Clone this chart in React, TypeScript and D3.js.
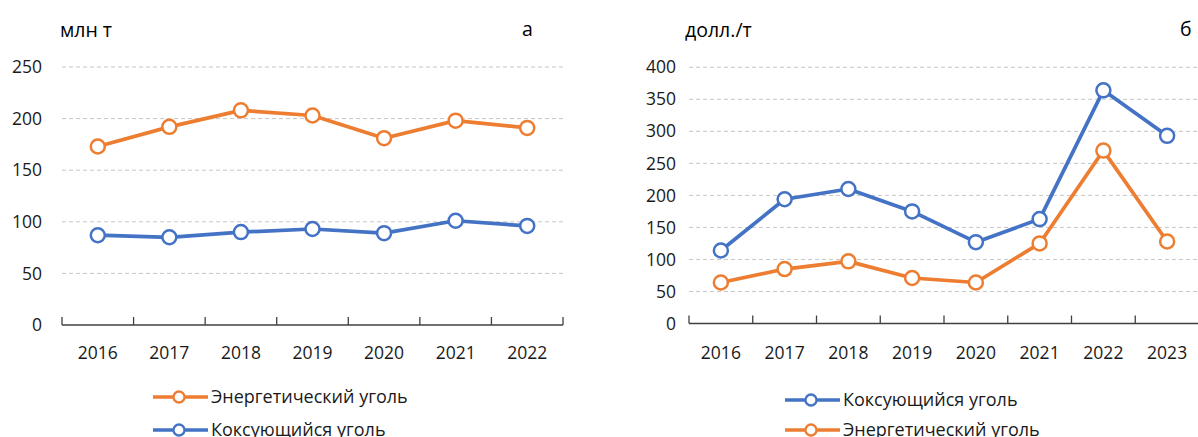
import React, { useEffect, useRef } from "react";
import * as d3 from "d3";

// left panel (а): production, mln t
const yearsA = ["2016", "2017", "2018", "2019", "2020", "2021", "2022"];
const thermalA = [173, 192, 208, 203, 181, 198, 191];
const cokingA = [87, 85, 90, 93, 89, 101, 96];
const ticksA = [0, 50, 100, 150, 200, 250];

// right panel (б): prices, USD/t
const yearsB = ["2016", "2017", "2018", "2019", "2020", "2021", "2022", "2023"];
const cokingB = [114, 194, 210, 175, 127, 163, 364, 293];
const thermalB = [64, 85, 97, 71, 64, 125, 270, 128];
const ticksB = [0, 50, 100, 150, 200, 250, 300, 350, 400];

const ORANGE = "#ED7D31";
const BLUE = "#4472C4";
const FONT = "'Open Sans', sans-serif";

const W = 1198, H = 437;

const drawPanel = (svg, cfg) => {
  const { years, series, ticks, max, xRange, yRange, labelX, unit, unitX, letter, letterX, legend } = cfg;
  const x = d3.scaleBand().domain(years).range(xRange);
  const y = d3.scaleLinear().domain([0, max]).range(yRange);
  const g = svg.append("g");

  // dashed grid
  g.selectAll(".grid")
    .data(ticks.filter(t => t > 0))
    .enter()
    .append("line")
    .attr("x1", xRange[0])
    .attr("x2", xRange[1])
    .attr("y1", d => y(d))
    .attr("y2", d => y(d))
    .attr("stroke", "#c6c6c6")
    .attr("stroke-width", 1)
    .attr("stroke-dasharray", "4,3");

  // y labels
  g.selectAll(".ylab")
    .data(ticks)
    .enter()
    .append("text")
    .attr("x", labelX)
    .attr("y", d => y(d))
    .attr("dy", "0.35em")
    .attr("text-anchor", "end")
    .attr("font-family", FONT)
    .attr("font-size", 17.5)
    .attr("fill", "#1a1a1a")
    .text(d => d);

  // x axis with inward ticks between categories
  const y0 = y(0);
  g.append("line")
    .attr("x1", xRange[0]).attr("x2", xRange[1])
    .attr("y1", y0).attr("y2", y0)
    .attr("stroke", "#404040").attr("stroke-width", 1.3);
  const bounds = years.map(d => x(d)).concat([x(years[years.length - 1]) + x.bandwidth()]);
  g.selectAll(".tick")
    .data(bounds)
    .enter()
    .append("line")
    .attr("x1", d => d).attr("x2", d => d)
    .attr("y1", y0 - 8).attr("y2", y0)
    .attr("stroke", "#404040").attr("stroke-width", 1.3);

  g.selectAll(".xlab")
    .data(years)
    .enter()
    .append("text")
    .attr("x", d => x(d) + x.bandwidth() / 2)
    .attr("y", 353)
    .attr("dy", "0.35em")
    .attr("text-anchor", "middle")
    .attr("font-family", FONT)
    .attr("font-size", 17.5)
    .attr("fill", "#1a1a1a")
    .text(d => d);

  // lines + markers
  const line = d3.line()
    .x((d, i) => x(years[i]) + x.bandwidth() / 2)
    .y(d => y(d));
  series.forEach(s => {
    g.append("path")
      .attr("d", line(s.values))
      .attr("fill", "none")
      .attr("stroke", s.color)
      .attr("stroke-width", 3.7)
      .attr("stroke-linejoin", "round");
    g.selectAll(null)
      .data(s.values)
      .enter()
      .append("circle")
      .attr("cx", (d, i) => x(years[i]) + x.bandwidth() / 2)
      .attr("cy", d => y(d))
      .attr("r", 7)
      .attr("fill", "#fff")
      .attr("stroke", s.color)
      .attr("stroke-width", 2.5);
  });

  // unit + panel letter
  g.append("text").attr("x", unitX).attr("y", 30).attr("dy", "0.35em")
    .attr("font-family", FONT).attr("font-size", 19.5).attr("fill", "#000").text(unit);
  g.append("text").attr("x", letterX).attr("y", 29).attr("dy", "0.35em")
    .attr("font-family", FONT).attr("font-size", 19.5).attr("fill", "#000").text(letter);

  // legend
  legend.items.forEach((it, i) => {
    const ly = legend.y[i];
    g.append("line")
      .attr("x1", legend.x).attr("x2", legend.x + 55)
      .attr("y1", ly).attr("y2", ly)
      .attr("stroke", it.color).attr("stroke-width", 3.5);
    g.append("circle")
      .attr("cx", legend.x + 26).attr("cy", ly).attr("r", 5.5)
      .attr("fill", "#fff").attr("stroke", it.color).attr("stroke-width", 2.3);
    g.append("text")
      .attr("x", legend.x + 58).attr("y", ly).attr("dy", "0.35em")
      .attr("font-family", FONT).attr("font-size", 18).attr("fill", "#1a1a1a")
      .text(it.name);
  });
};

const App = () => {
  const svgRef = useRef(null);

  useEffect(() => {
    const svg = d3.select(svgRef.current);
    svg.selectAll("*").remove();

    drawPanel(svg, {
      years: yearsA,
      series: [
        { values: thermalA, color: ORANGE },
        { values: cokingA, color: BLUE },
      ],
      ticks: ticksA,
      max: 250,
      xRange: [62, 563],
      yRange: [325, 67],
      labelX: 42,
      unit: "млн т",
      unitX: 60,
      letter: "а",
      letterX: 522,
      legend: {
        x: 153,
        y: [397, 430],
        items: [
          { name: "Энергетический уголь", color: ORANGE },
          { name: "Коксующийся уголь", color: BLUE },
        ],
      },
    });

    drawPanel(svg, {
      years: yearsB,
      series: [
        { values: thermalB, color: ORANGE },
        { values: cokingB, color: BLUE },
      ],
      ticks: ticksB,
      max: 400,
      xRange: [689, 1199],
      yRange: [323.5, 67.3],
      labelX: 676,
      unit: "долл./т",
      unitX: 685,
      letter: "б",
      letterX: 1180,
      legend: {
        x: 785,
        y: [400, 430],
        items: [
          { name: "Коксующийся уголь", color: BLUE },
          { name: "Энергетический уголь", color: ORANGE },
        ],
      },
    });
  }, []);

  return (
    <svg
      ref={svgRef}
      width={W}
      height={H}
      style={{ position: "absolute", left: 0, top: 0, background: "#fff" }}
    />
  );
};

export default App;
